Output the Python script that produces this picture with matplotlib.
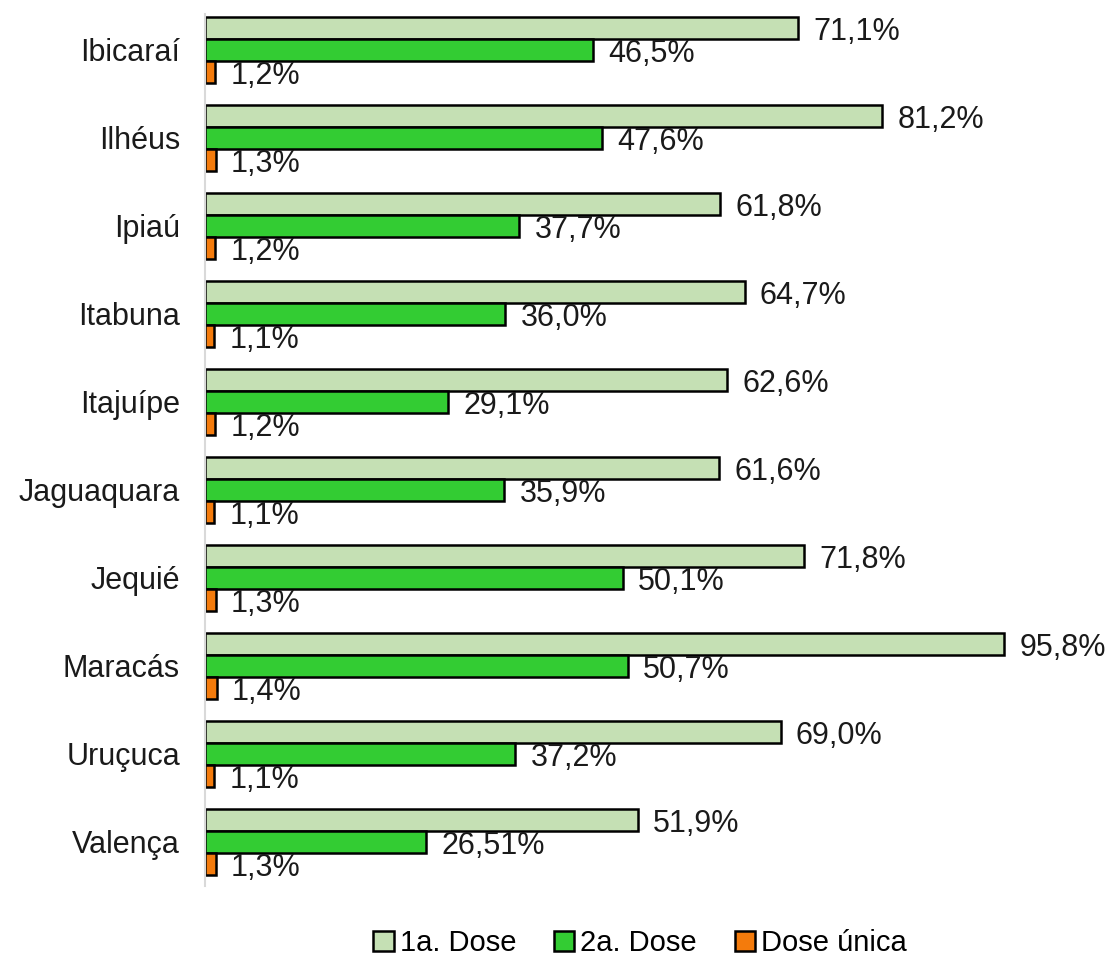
import matplotlib
matplotlib.use("Agg")
from matplotlib import pyplot as plt
import numpy as np

plt.rcParams['font.family'] = ['Liberation Sans', 'DejaVu Sans']

cities = ["Ibicaraí", "Ilhéus", "Ipiaú", "Itabuna", "Itajuípe",
          "Jaguaquara", "Jequié", "Maracás", "Uruçuca", "Valença"]
dose1 = [71.1, 81.2, 61.8, 64.7, 62.6, 61.6, 71.8, 95.8, 69.0, 51.9]
dose2 = [46.5, 47.6, 37.7, 36.0, 29.1, 35.9, 50.1, 50.7, 37.2, 26.51]
dose_unica = [1.2, 1.3, 1.2, 1.1, 1.2, 1.1, 1.3, 1.4, 1.1, 1.3]
labels1 = ["71,1%", "81,2%", "61,8%", "64,7%", "62,6%", "61,6%", "71,8%", "95,8%", "69,0%", "51,9%"]
labels2 = ["46,5%", "47,6%", "37,7%", "36,0%", "29,1%", "35,9%", "50,1%", "50,7%", "37,2%", "26,51%"]
labels_u = ["1,2%", "1,3%", "1,2%", "1,1%", "1,2%", "1,1%", "1,3%", "1,4%", "1,1%", "1,3%"]

fig = plt.figure(figsize=(11.14, 9.59), dpi=100)
ax = fig.add_axes([205 / 1114, 1 - 886 / 959, (1110 - 205) / 1114, 880 / 959])

y = np.arange(len(cities))
h = 0.25
series = [
    (dose1, labels1, "#c5e0b4", "1a. Dose", -h),
    (dose2, labels2, "#33cc33", "2a. Dose", 0),
    (dose_unica, labels_u, "#f47b0c", "Dose única", h),
]
for values, texts, color, name, off in series:
    bars = ax.barh(y + off, values, height=h, color=color, edgecolor="black",
                   linewidth=1.8, label=name)
    for bar, txt in zip(bars, texts):
        ax.annotate(txt, (bar.get_width(), bar.get_y() + bar.get_height() / 2),
                    xytext=(11, -3), textcoords="offset points",
                    ha="left", va="center", fontsize=22, color="#1a1a1a")

ax.set_xlim(0, 108.5)
ax.set_ylim(9.5, -0.5)
ax.set_yticks(y)
ax.set_yticklabels(cities, fontsize=22, color="#1a1a1a")
ax.tick_params(axis="y", length=0, pad=18)
ax.xaxis.set_visible(False)
for side in ["top", "right", "bottom"]:
    ax.spines[side].set_visible(False)
ax.spines["left"].set_color("#d9d9d9")
ax.spines["left"].set_linewidth(1.5)
ax.spines["left"].set_bounds(-0.41, 9.5)

fig.legend(loc="center", bbox_to_anchor=(640 / 1114, 1 - 943 / 959), ncol=3,
           frameon=False, fontsize=21, handlelength=0.7, handleheight=0.7,
           handletextpad=0.2, columnspacing=1.3)

plt.savefig("out.png", dpi=100)
